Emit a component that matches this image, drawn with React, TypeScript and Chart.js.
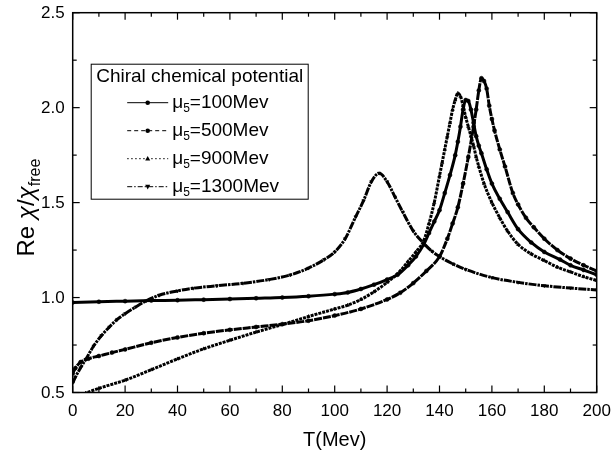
import React, { useEffect, useRef } from "react";
import { Chart, registerables } from "chart.js";

Chart.register(...registerables);

// ---- Data ----
const t100 = [0, 10, 20, 30, 40, 50, 60, 70, 80, 90, 100, 105, 110, 115, 120, 124, 128, 131, 134, 136, 138, 140, 142, 144, 146, 147, 148, 149, 150, 151, 152, 153, 154, 155, 156, 158, 160, 163, 166, 170, 175, 180, 186, 190, 195, 200];
const v100 = [0.974, 0.978, 0.981, 0.984, 0.986, 0.989, 0.992, 0.996, 1.0, 1.007, 1.018, 1.027, 1.045, 1.068, 1.095, 1.12, 1.17, 1.216, 1.28, 1.34, 1.40, 1.46, 1.55, 1.645, 1.75, 1.82, 1.90, 1.99, 2.04, 2.035, 1.99, 1.92, 1.85, 1.80, 1.76, 1.675, 1.60, 1.52, 1.45, 1.36, 1.29, 1.24, 1.20, 1.17, 1.145, 1.12];

const t500 = [0, 1, 3, 6, 10, 15, 20, 30, 40, 50, 60, 70, 80, 90, 100, 110, 120, 125, 130, 135, 140, 143, 145, 147, 149, 151, 153, 154, 155, 156, 157, 158, 159, 160, 161, 163, 165, 168, 170, 173, 176, 180, 185, 190, 195, 200];
const v500 = [0.60, 0.628, 0.66, 0.678, 0.692, 0.71, 0.727, 0.762, 0.79, 0.812, 0.83, 0.845, 0.86, 0.878, 0.905, 0.94, 0.99, 1.025, 1.076, 1.14, 1.216, 1.31, 1.39, 1.475, 1.60, 1.74, 1.90, 1.99, 2.09, 2.155, 2.14, 2.10, 2.01, 1.94, 1.88, 1.78, 1.69, 1.55, 1.49, 1.42, 1.37, 1.31, 1.25, 1.205, 1.17, 1.14];

const t900 = [0, 5, 10, 20, 30, 40, 50, 60, 70, 80, 90, 100, 105, 110, 115, 120, 125, 128, 131, 134, 136, 138, 140, 141, 142, 143, 144, 145, 146, 147, 148, 149, 150, 151, 152, 153, 154, 155, 157, 160, 163, 166, 170, 175, 180, 185, 190, 195, 200];
const v900 = [0.47, 0.497, 0.522, 0.565, 0.62, 0.677, 0.73, 0.775, 0.818, 0.858, 0.9, 0.94, 0.96, 0.99, 1.03, 1.08, 1.14, 1.19, 1.24, 1.30, 1.39, 1.50, 1.64, 1.71, 1.78, 1.85, 1.92, 1.99, 2.04, 2.076, 2.06, 2.01, 1.95, 1.90, 1.85, 1.80, 1.74, 1.69, 1.60, 1.50, 1.42, 1.35, 1.28, 1.23, 1.195, 1.16, 1.135, 1.11, 1.09];

const t1300 = [0, 1, 3, 5, 8, 11, 14, 17, 20, 24, 28, 33, 40, 46, 55, 65, 75, 83, 90, 96, 100, 104, 108, 111, 114, 117, 120, 123, 126, 130, 134, 137, 140, 145, 150, 160, 170, 180, 190, 200];
const v1300 = [0.55, 0.58, 0.63, 0.675, 0.745, 0.80, 0.845, 0.885, 0.915, 0.95, 0.982, 1.012, 1.035, 1.049, 1.062, 1.075, 1.095, 1.119, 1.155, 1.20, 1.24, 1.31, 1.425, 1.51, 1.61, 1.655, 1.61, 1.53, 1.45, 1.35, 1.285, 1.245, 1.216, 1.178, 1.148, 1.105, 1.08, 1.062, 1.05, 1.04];

const muValues = ["100", "500", "900", "1300"];
const legendTitle = "Chiral chemical potential";
const xTitle = "T(Mev)";
const xTickLabels = ["0", "20", "40", "60", "80", "100", "120", "140", "160", "180", "200"];
const yTickLabels = ["0.5", "1.0", "1.5", "2.0", "2.5"];

const X_MIN = 0, X_MAX = 200, X_MINOR = 10;
const Y_MIN = 0.5, Y_MAX = 2.5, Y_MINOR = 0.25;

const FONT = '"Liberation Sans", Arial, Helvetica, sans-serif';

type Style = { dash: number[]; legendDash: number[]; point: "circle" | "triangle"; rot: number };
const styles: Style[] = [
  { dash: [], legendDash: [], point: "circle", rot: 0 },
  { dash: [8, 1], legendDash: [4, 3], point: "circle", rot: 0 },
  { dash: [3, 1], legendDash: [1.5, 2.5], point: "triangle", rot: 0 },
  { dash: [8, 1, 2.5, 1], legendDash: [5, 2, 1.5, 2], point: "triangle", rot: 180 },
];

const seriesT = [t100, t500, t900, t1300];
const seriesV = [v100, v500, v900, v1300];

function drawMarker(ctx: CanvasRenderingContext2D, st: Style, x: number, y: number, r: number) {
  ctx.beginPath();
  if (st.point === "circle") {
    ctx.arc(x, y, r, 0, Math.PI * 2);
  } else if (st.rot === 0) {
    ctx.moveTo(x, y - r * 1.2);
    ctx.lineTo(x + r * 1.1, y + r * 0.8);
    ctx.lineTo(x - r * 1.1, y + r * 0.8);
    ctx.closePath();
  } else {
    ctx.moveTo(x, y + r * 1.2);
    ctx.lineTo(x + r * 1.1, y - r * 0.8);
    ctx.lineTo(x - r * 1.1, y - r * 0.8);
    ctx.closePath();
  }
  ctx.fill();
}

const overlayPlugin = {
  id: "overlay",
  afterDraw(chart: any) {
    const { ctx, chartArea: a, scales } = chart;
    const xs = scales.x;
    const ys = scales.y;
    ctx.save();
    ctx.strokeStyle = "#000";
    ctx.fillStyle = "#000";
    ctx.setLineDash([]);

    // frame
    ctx.lineWidth = 1.5;
    ctx.strokeRect(a.left, a.top, a.right - a.left, a.bottom - a.top);

    // inward ticks on all four sides
    ctx.lineWidth = 1.2;
    const seg = (x1: number, y1: number, x2: number, y2: number) => {
      ctx.beginPath();
      ctx.moveTo(x1, y1);
      ctx.lineTo(x2, y2);
      ctx.stroke();
    };
    const nx = Math.round((X_MAX - X_MIN) / X_MINOR);
    for (let i = 0; i <= nx; i++) {
      const v = X_MIN + i * X_MINOR;
      const len = i % 2 === 0 ? 7 : 4;
      const px = xs.getPixelForValue(v);
      seg(px, a.bottom, px, a.bottom - len);
      seg(px, a.top, px, a.top + len);
    }
    const ny = Math.round((Y_MAX - Y_MIN) / Y_MINOR);
    for (let i = 0; i <= ny; i++) {
      const v = Y_MIN + i * Y_MINOR;
      const len = i % 2 === 0 ? 7 : 4;
      const py = ys.getPixelForValue(v);
      seg(a.left, py, a.left + len, py);
      seg(a.right, py, a.right - len, py);
    }

    // tick labels
    ctx.font = `17px ${FONT}`;
    ctx.textAlign = "center";
    ctx.textBaseline = "middle";
    for (const lab of xTickLabels) {
      ctx.fillText(lab, xs.getPixelForValue(Number(lab)), a.bottom + 19);
    }
    ctx.textAlign = "right";
    for (const lab of yTickLabels) {
      ctx.fillText(lab, a.left - 8, ys.getPixelForValue(Number(lab)) + 0.5);
    }

    // x title
    ctx.font = `20px ${FONT}`;
    ctx.textAlign = "center";
    ctx.textBaseline = "middle";
    ctx.fillText(xTitle, (a.left + a.right) / 2, 440);

    // y title: Re χ/χ_free
    const big = `24px ${FONT}`;
    const ital = `italic 24px ${FONT}`;
    const small = `16px ${FONT}`;
    const parts: { t: string; f: string; dy: number }[] = [
      { t: "Re ", f: big, dy: 0 },
      { t: "χ", f: ital, dy: 0 },
      { t: "/", f: big, dy: 0 },
      { t: "χ", f: ital, dy: 0 },
      { t: "free", f: small, dy: 6 },
    ];
    let total = 0;
    for (const p of parts) {
      ctx.font = p.f;
      total += ctx.measureText(p.t).width;
    }
    ctx.save();
    ctx.translate(34, (a.top + a.bottom) / 2 + 5);
    ctx.rotate(-Math.PI / 2);
    ctx.textAlign = "left";
    ctx.textBaseline = "alphabetic";
    let cx = -total / 2;
    for (const p of parts) {
      ctx.font = p.f;
      ctx.fillText(p.t, cx, p.dy);
      cx += ctx.measureText(p.t).width;
    }
    ctx.restore();

    // legend box
    const bx = a.left + 18.5;
    const by = a.top + 51.5;
    const bw = 217;
    const bh = 135;
    ctx.fillStyle = "#fff";
    ctx.fillRect(bx, by, bw, bh);
    ctx.fillStyle = "#000";
    ctx.lineWidth = 1;
    ctx.strokeRect(bx, by, bw, bh);

    ctx.font = `19px ${FONT}`;
    ctx.textAlign = "left";
    ctx.textBaseline = "middle";
    ctx.fillText(legendTitle, bx + 5, by + 13);

    const rowY0 = by + 38.5;
    const rowGap = 28;
    for (let i = 0; i < muValues.length; i++) {
      const st = styles[i];
      const ry = rowY0 + i * rowGap;
      const lx1 = bx + 36;
      const lx2 = bx + 77;
      ctx.lineWidth = 1;
      ctx.setLineDash(st.legendDash);
      ctx.beginPath();
      ctx.moveTo(lx1, ry);
      ctx.lineTo(lx2, ry);
      ctx.stroke();
      ctx.setLineDash([]);
      drawMarker(ctx, st, (lx1 + lx2) / 2, ry, 2.3);

      let tx = bx + 81;
      ctx.font = `19px ${FONT}`;
      ctx.textBaseline = "middle";
      ctx.fillText("μ", tx, ry);
      tx += ctx.measureText("μ").width;
      ctx.font = `12px ${FONT}`;
      ctx.fillText("5", tx, ry + 6);
      tx += ctx.measureText("5").width;
      ctx.font = `19px ${FONT}`;
      ctx.fillText(`=${muValues[i]}Mev`, tx, ry);
    }
    ctx.restore();
  },
};

export default function App() {
  const canvasRef = useRef<HTMLCanvasElement | null>(null);

  useEffect(() => {
    if (!canvasRef.current) return;
    const datasets = seriesT.map((t, i) => {
      const st = styles[i];
      return {
        label: `μ5=${muValues[i]}Mev`,
        data: t.map((x, j) => ({ x, y: seriesV[i][j] })),
        borderColor: "#000",
        backgroundColor: "#000",
        borderWidth: 3,
        borderDash: st.dash,
        pointStyle: st.point,
        pointRotation: st.rot,
        pointRadius: 2,
        pointHoverRadius: 2,
        pointBorderWidth: 0.5,
        cubicInterpolationMode: "monotone" as const,
        fill: false,
        clip: 0,
      };
    });

    const chart = new Chart(canvasRef.current, {
      type: "line",
      data: { datasets },
      options: {
        animation: false,
        responsive: false,
        devicePixelRatio: 1,
        layout: { padding: { left: 0, right: 14.3, top: 12.7, bottom: 0 } },
        plugins: {
          legend: { display: false },
          tooltip: { enabled: false },
          title: { display: false },
        },
        scales: {
          x: {
            type: "linear",
            min: X_MIN,
            max: X_MAX,
            grid: { display: false, drawTicks: false },
            border: { display: false },
            ticks: { display: false },
            afterFit: (s: any) => {
              s.height = 60.5;
            },
          },
          y: {
            type: "linear",
            min: Y_MIN,
            max: Y_MAX,
            grid: { display: false, drawTicks: false },
            border: { display: false },
            ticks: { display: false },
            afterFit: (s: any) => {
              s.width = 72.7;
            },
          },
        },
      },
      plugins: [overlayPlugin],
    });
    return () => chart.destroy();
  }, []);

  return (
    <div style={{ position: "fixed", left: 0, top: 0, width: 611, height: 453, background: "#fff" }}>
      <canvas ref={canvasRef} width={611} height={453} style={{ width: 611, height: 453 }} />
    </div>
  );
}
